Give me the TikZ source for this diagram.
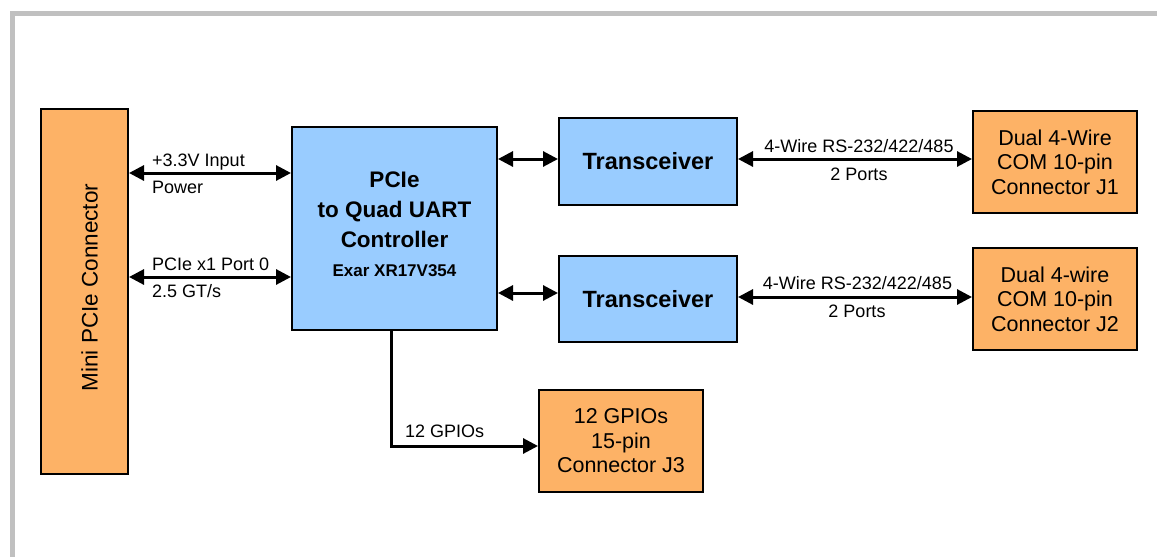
\documentclass[tikz,border=0pt]{standalone}
\usepackage{fontspec}
\setmainfont{Liberation Sans}
\usetikzlibrary{arrows.meta}
\definecolor{boxorange}{RGB}{253,178,102}
\definecolor{boxblue}{RGB}{153,204,255}
\definecolor{framegray}{RGB}{192,192,192}
\tikzset{
  orangebox/.style={draw=black,line width=2pt,fill=boxorange,inner sep=0pt,align=center,font=\fontsize{21.5}{24.5}\selectfont},
  bluebox/.style={draw=black,line width=2pt,fill=boxblue,inner sep=0pt,align=center},
  lbl/.style={font=\fontsize{18}{20}\selectfont,inner sep=0pt},
  biarrow/.style={line width=3pt,{Triangle[length=15pt,width=15pt]}-{Triangle[length=15pt,width=15pt]}},
  onearrow/.style={line width=3pt,-{Triangle[length=15pt,width=15pt]}},
}
\begin{document}
\begin{tikzpicture}[x=1pt,y=-1pt]
\useasboundingbox (0,0) rectangle (1157,557);
% frame
\draw[framegray,line width=5pt] (12.5,557) -- (12.5,13.5) -- (1157,13.5);
% nodes
\node[orangebox,minimum width=87pt,minimum height=365pt] (mini) at (84.5,291.5) {};
\node[inner sep=0pt,rotate=90,font=\fontsize{22.5}{26}\selectfont] (minitext) at (89.5,287.5) {Mini PCIe Connector};
\node[bluebox,minimum width=205pt,minimum height=203pt] (ctrl) at (394.5,228.5) {};
\node[inner sep=0pt,anchor=base,align=center,font=\fontsize{22.5}{30}\selectfont\bfseries] (ctrltext) at (394.5,276) {PCIe\\to Quad UART\\Controller\\[-1pt]{\fontsize{17}{20}\selectfont Exar XR17V354}};
\node[bluebox,minimum width=178pt,minimum height=87pt,font=\fontsize{23.5}{27}\selectfont\bfseries] (t1) at (648,161.5) {Transceiver};
\node[bluebox,minimum width=178pt,minimum height=86pt,font=\fontsize{23.5}{27}\selectfont\bfseries] (t2) at (648,299) {Transceiver};
\node[orangebox,minimum width=164pt,minimum height=102pt] (j1) at (1055,162) {Dual 4-Wire\\COM 10-pin\\Connector J1};
\node[orangebox,minimum width=164pt,minimum height=102pt] (j2) at (1055,299) {Dual 4-wire\\COM 10-pin\\Connector J2};
\node[orangebox,minimum width=164pt,minimum height=102pt] (j3) at (621,441) {12 GPIOs\\15-pin\\Connector J3};
% connectors
\draw[biarrow] (mini.east |- 0,173) -- (ctrl.west |- 0,173);
\draw[biarrow] (mini.east |- 0,277) -- (ctrl.west |- 0,277);
\draw[biarrow] (ctrl.east |- 0,159) -- (t1.west |- 0,159);
\draw[biarrow] (ctrl.east |- 0,293) -- (t2.west |- 0,293);
\draw[biarrow] (t1.east |- 0,159) -- (j1.west |- 0,159);
\draw[biarrow] (t2.east |- 0,297) -- (j2.west |- 0,297);
\coordinate (bend) at (391,446);
\draw[onearrow] (ctrl.south -| bend) -- (bend) -- (j3.west |- bend);
% labels
\node[lbl,anchor=base west] (l1) at (152,166) {+3.3V Input};
\node[lbl,anchor=base west] (l2) at (152,193) {Power};
\node[lbl,anchor=base west] (l3) at (152,270) {PCIe x1 Port 0};
\node[lbl,anchor=base west] (l4) at (152,297) {2.5 GT/s};
\node[lbl,anchor=base] (l5) at (859,152) {4-Wire RS-232/422/485};
\node[lbl,anchor=base] (l6) at (859,180) {2 Ports};
\node[lbl,anchor=base] (l7) at (857.5,289) {4-Wire RS-232/422/485};
\node[lbl,anchor=base] (l8) at (857,317) {2 Ports};
\node[lbl,anchor=base west] (l9) at (405,437) {12 GPIOs};
\end{tikzpicture}
\end{document}
